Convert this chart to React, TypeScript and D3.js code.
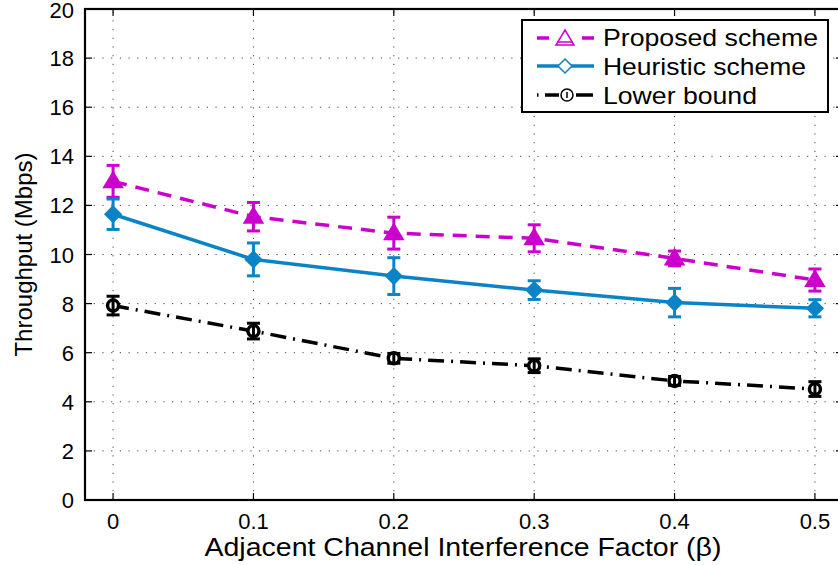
import React from "react";
import * as d3 from "d3";

const betas = [0, 0.1, 0.2, 0.3, 0.4, 0.5];
const proposed = [12.98, 11.54, 10.87, 10.66, 9.84, 8.96];
const proposedErr = [0.65, 0.58, 0.65, 0.55, 0.3, 0.45];
const heuristic = [11.64, 9.8, 9.12, 8.55, 8.04, 7.81];
const heuristicErr = [0.62, 0.67, 0.75, 0.38, 0.58, 0.35];
const lower = [7.92, 6.88, 5.77, 5.47, 4.85, 4.52];
const lowerErr = [0.38, 0.32, 0.2, 0.28, 0.18, 0.3];
const xTicks = [0, 0.1, 0.2, 0.3, 0.4, 0.5];
const xTickLabels = ["0", "0.1", "0.2", "0.3", "0.4", "0.5"];
const yTicks = [0, 2, 4, 6, 8, 10, 12, 14, 16, 18, 20];
const seriesNames = ["Proposed scheme", "Heuristic scheme", "Lower bound"];
const xLabel = "Adjacent Channel Interference Factor (\u03B2)";
const yLabel = "Throughput (Mbps)";

const W = 838;
const H = 565;
const L = 85, R = 843, T = 9, B = 500;
const MAG = "#CC00CC";
const BLUE = "#0A84C6";
const FONT = "Liberation Sans, Arial, Helvetica, sans-serif";

export default function App() {
  const x = d3.scaleLinear().domain([-0.02, 0.52]).range([L, R]);
  const y = d3.scaleLinear().domain([0, 20]).range([B, T]);
  const line = d3
    .line<[number, number]>()
    .x((d) => x(d[0]))
    .y((d) => y(d[1]));

  const series = [
    { vals: proposed, err: proposedErr, color: MAG, dash: "14,9", marker: "tri" },
    { vals: heuristic, err: heuristicErr, color: BLUE, dash: "", marker: "dia" },
    { vals: lower, err: lowerErr, color: "#000", dash: "16,7,2,7", marker: "circ" },
  ];

  const marker = (kind: string, cx: number, cy: number, color: string, legend = false) => {
    if (kind === "tri") {
      const p = `M${cx},${cy - 9} L${cx + 9},${cy + 6} L${cx - 9},${cy + 6} Z`;
      return (
        <path d={p} fill={legend ? "white" : color} stroke={color} strokeWidth={legend ? 1.5 : 2} strokeLinejoin="miter" />
      );
    }
    if (kind === "dia") {
      const p = `M${cx},${cy - 7} L${cx + 7},${cy} L${cx},${cy + 7} L${cx - 7},${cy} Z`;
      return <path d={p} fill={legend ? "white" : color} stroke={color} strokeWidth={legend ? 1.5 : 3} />;
    }
    return <circle cx={cx} cy={cy} r={legend ? 6 : 5.5} fill="white" stroke={color} strokeWidth={legend ? 1.5 : 3.5} />;
  };

  return (
    <svg
      width={W}
      height={H}
      style={{ position: "absolute", left: 0, top: 0, background: "white" }}
      fontFamily={FONT}
    >
      <rect x={0} y={0} width={W} height={H} fill="white" />
      {/* grid */}
      <g stroke="#444" strokeWidth={1} strokeDasharray="1.2,7.5">
        {xTicks.map((t) => (
          <line key={"gx" + t} x1={x(t)} x2={x(t)} y1={B} y2={T} />
        ))}
        {yTicks.slice(1, -1).map((t) => (
          <line key={"gy" + t} x1={L} x2={R} y1={y(t)} y2={y(t)} />
        ))}
      </g>
      {/* ticks inward */}
      <g stroke="#000" strokeWidth={1.2}>
        {xTicks.map((t) => (
          <g key={"tx" + t}>
            <line x1={x(t)} x2={x(t)} y1={B} y2={B - 7} />
            <line x1={x(t)} x2={x(t)} y1={T} y2={T + 7} />
          </g>
        ))}
        {yTicks.map((t) => (
          <g key={"ty" + t}>
            <line x1={L} x2={L + 7} y1={y(t)} y2={y(t)} />
            <line x1={R} x2={R - 7} y1={y(t)} y2={y(t)} />
          </g>
        ))}
      </g>
      {/* lines */}
      {series.map((s, i) => (
        <path
          key={"l" + i}
          d={line(betas.map((b, j) => [b, s.vals[j]] as [number, number])) || ""}
          fill="none"
          stroke={s.color}
          strokeWidth={3.5}
          strokeDasharray={s.dash || undefined}
        />
      ))}
      {/* markers and error bars */}
      {series.map((s, i) => (
        <g key={"m" + i}>
          {betas.map((b, j) => {
            const cx = x(b);
            const top = y(s.vals[j] + s.err[j]);
            const bot = y(s.vals[j] - s.err[j]);
            return (
              <g key={j}>
                {marker(s.marker, cx, y(s.vals[j]), s.color)}
                <g stroke={s.color} strokeWidth={3}>
                  <line x1={cx} x2={cx} y1={top} y2={bot} />
                  <line x1={cx - 6.5} x2={cx + 6.5} y1={top} y2={top} />
                  <line x1={cx - 6.5} x2={cx + 6.5} y1={bot} y2={bot} />
                </g>
              </g>
            );
          })}
        </g>
      ))}
      {/* axes box */}
      <rect x={L} y={T} width={R - L} height={B - T} fill="none" stroke="#000" strokeWidth={2.2} />
      {/* tick labels */}
      <g fontSize={22} fill="#000">
        {xTicks.map((t, i) => (
          <text key={"xl" + t} x={x(t)} y={529} textAnchor="middle">
            {xTickLabels[i]}
          </text>
        ))}
        {yTicks.map((t) => (
          <text key={"yl" + t} x={74} y={Math.max(y(t) + 8, 18)} textAnchor="end">
            {String(t)}
          </text>
        ))}
      </g>
      {/* axis labels */}
      <text x={463} y={556} textAnchor="middle" fontSize={25} textLength={517} lengthAdjust="spacingAndGlyphs">
        {xLabel}
      </text>
      <text
        transform={`translate(32,${(T + B) / 2}) rotate(-90)`}
        textAnchor="middle"
        fontSize={24}
      >
        {yLabel}
      </text>
      {/* legend */}
      <g>
        <rect x={522} y={20} width={306} height={92} fill="white" stroke="#000" strokeWidth={2} />
        {/* proposed */}
        <line x1={537} x2={549} y1={38} y2={38} stroke={MAG} strokeWidth={3.5} />
        <line x1={582} x2={594} y1={38} y2={38} stroke={MAG} strokeWidth={3.5} />
        {marker("tri", 565, 39, MAG, true)}
        <line x1={557} x2={573} y1={42} y2={42} stroke={MAG} strokeWidth={1.5} />
        {/* heuristic */}
        <line x1={537} x2={594} y1={66} y2={66} stroke={BLUE} strokeWidth={3.5} />
        {marker("dia", 565, 66, BLUE, true)}
        {/* lower */}
        <line x1={537} x2={538.5} y1={95} y2={95} stroke="#000" strokeWidth={3.5} />
        <line x1={545} x2={559} y1={95} y2={95} stroke="#000" strokeWidth={3.5} />
        <line x1={576} x2={593} y1={95} y2={95} stroke="#000" strokeWidth={3.5} />
        {marker("circ", 567, 95, "#000", true)}
        <line x1={567} x2={567} y1={92} y2={98} stroke="#000" strokeWidth={1.5} />
        <g fontSize={24} fill="#000">
          <text x={603} y={46} textLength={215} lengthAdjust="spacingAndGlyphs">{seriesNames[0]}</text>
          <text x={603} y={75} textLength={203} lengthAdjust="spacingAndGlyphs">{seriesNames[1]}</text>
          <text x={603} y={104} textLength={154} lengthAdjust="spacingAndGlyphs">{seriesNames[2]}</text>
        </g>
      </g>
    </svg>
  );
}
